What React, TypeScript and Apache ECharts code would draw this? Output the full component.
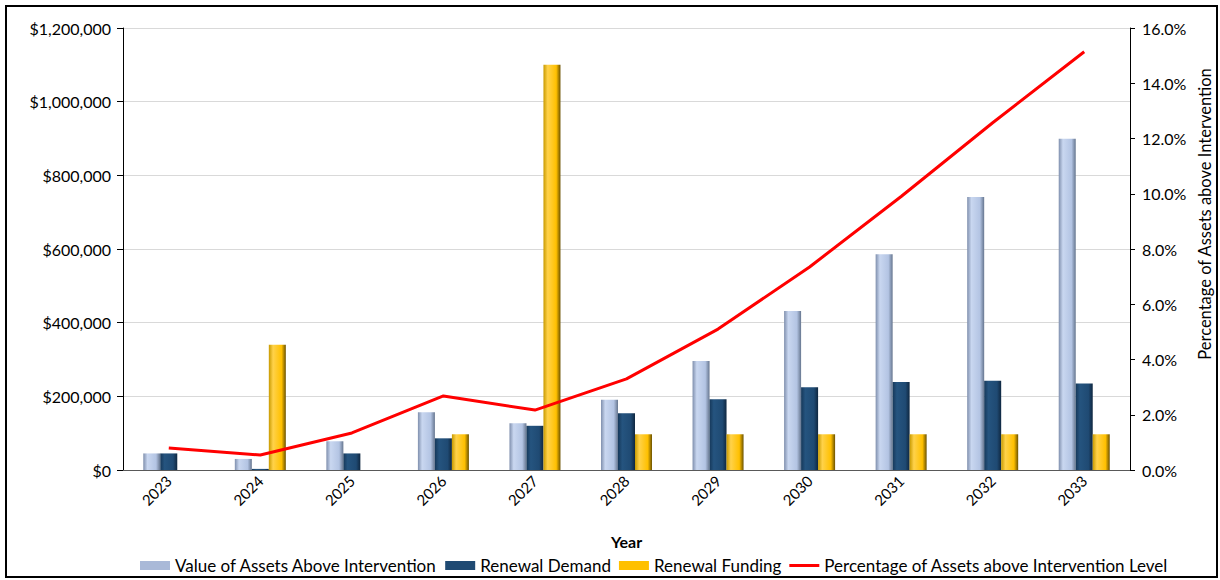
import React, { useEffect, useRef } from "react";
import * as echarts from "echarts";

const years = ["2023", "2024", "2025", "2026", "2027", "2028", "2029", "2030", "2031", "2032", "2033"];
const valueAbove = [45000, 30000, 78000, 157000, 127000, 191000, 296000, 432000, 586000, 741000, 899000];
const renewalDemand = [45000, 3000, 45000, 86000, 120000, 154000, 192000, 225000, 239000, 242000, 235000];
const renewalFunding = [0, 340000, 0, 97000, 1100000, 97000, 97000, 97000, 97000, 97000, 97000];
const pctAbove = [0.8, 0.54, 1.34, 2.68, 2.17, 3.3, 5.1, 7.35, 9.9, 12.57, 15.14];

const FONT = "Lato, 'Open Sans', sans-serif";

const grad = (c: string[]) =>
  new echarts.graphic.LinearGradient(0, 0, 1, 0, [
    { offset: 0, color: c[0] },
    { offset: 0.25, color: c[1] },
    { offset: 0.75, color: c[2] },
    { offset: 1, color: c[3] },
  ]);

export default function App() {
  const ref = useRef<HTMLDivElement>(null);
  useEffect(() => {
    if (!ref.current) return;
    const chart = echarts.init(ref.current, null, { renderer: "svg" });
    const lightBlue = grad(["#7f8fad", "#c9d7f0", "#b3c4e3", "#66768f"]);
    const navy = grad(["#16385a", "#25547f", "#1f4a73", "#0f2740"]);
    const gold = grad(["#c89a00", "#ffd24a", "#ffc000", "#6b5200"]);
    chart.setOption({
      animation: false,
      textStyle: { fontFamily: FONT },
      grid: { left: 123, right: 90, top: 28, bottom: 110, containLabel: false },
      legend: {
        bottom: 1,
        left: 135,
        itemWidth: 30,
        itemHeight: 9,
        itemGap: 8,
        textStyle: { fontSize: 17, color: "#000", fontFamily: FONT },
        data: [
          { name: "Value of Assets Above Intervention", icon: "rect", itemStyle: { color: "#a9b9d8" } },
          { name: "Renewal Demand", icon: "rect", itemStyle: { color: "#1f4a73" } },
          { name: "Renewal Funding", icon: "rect", itemStyle: { color: "#ffc000" } },
          {
            name: "Percentage of Assets above Intervention Level",
            icon: "path://M0,0 L30,0 L30,3 L0,3 Z",
            itemStyle: { color: "#ff0000" },
          },
        ],
      },
      xAxis: {
        type: "category",
        data: years,
        name: "Year",
        nameLocation: "middle",
        nameGap: 63,
        nameTextStyle: { fontWeight: "bold", fontSize: 16, color: "#000" },
        axisLine: { lineStyle: { color: "#595959" } },
        axisTick: { show: false },
        axisLabel: { rotate: 45, fontSize: 15, color: "#000", margin: 8 },
      },
      yAxis: [
        {
          type: "value",
          min: 0,
          max: 1200000,
          interval: 200000,
          axisLine: { show: true, lineStyle: { color: "#000" } },
          axisTick: { show: true, length: 6, lineStyle: { color: "#000" } },
          axisLabel: {
            fontSize: 16,
            color: "#000",
            margin: 12,
            formatter: (v: number) => "$" + v.toLocaleString("en-US"),
          },
          splitLine: { lineStyle: { color: "#d9d9d9" } },
        },
        {
          type: "value",
          min: 0,
          max: 16,
          interval: 2,
          position: "right",
          axisLine: { show: true, lineStyle: { color: "#000" } },
          axisTick: { show: true, length: 5, lineStyle: { color: "#000" } },
          axisLabel: {
            fontSize: 16,
            color: "#000",
            margin: 12,
            formatter: (v: number) => v.toFixed(1) + "%",
          },
          splitLine: { show: false },
        },
      ],
      series: [
        {
          name: "Value of Assets Above Intervention",
          type: "bar",
          data: valueAbove,
          barWidth: 17,
          barGap: "0%",
          itemStyle: { color: lightBlue },
        },
        {
          name: "Renewal Demand",
          type: "bar",
          data: renewalDemand,
          barWidth: 17,
          barGap: "0%",
          itemStyle: { color: navy },
        },
        {
          name: "Renewal Funding",
          type: "bar",
          data: renewalFunding,
          barWidth: 17,
          barGap: "0%",
          itemStyle: { color: gold },
        },
        {
          name: "Percentage of Assets above Intervention Level",
          type: "line",
          yAxisIndex: 1,
          data: pctAbove,
          showSymbol: false,
          symbol: "none",
          lineStyle: { color: "#ff0000", width: 3 },
          itemStyle: { color: "#ff0000" },
        },
      ],
      graphic: [
        {
          type: "rect",
          shape: { x: 6, y: 6, width: 1211, height: 571 },
          style: { fill: "none", stroke: "#000", lineWidth: 2 },
          silent: true,
        },
        {
          type: "text",
          x: 1205,
          y: 214,
          rotation: Math.PI / 2,
          style: {
            text: "Percentage of Assets above Intervention",
            fontSize: 16.5,
            fontFamily: FONT,
            fill: "#000",
            align: "center",
            verticalAlign: "middle",
          },
        },
      ],
    });
    return () => chart.dispose();
  }, []);
  return (
    <div
      ref={ref}
      style={{ position: "absolute", left: 0, top: 0, width: 1220, height: 580, background: "#fff" }}
    />
  );
}
